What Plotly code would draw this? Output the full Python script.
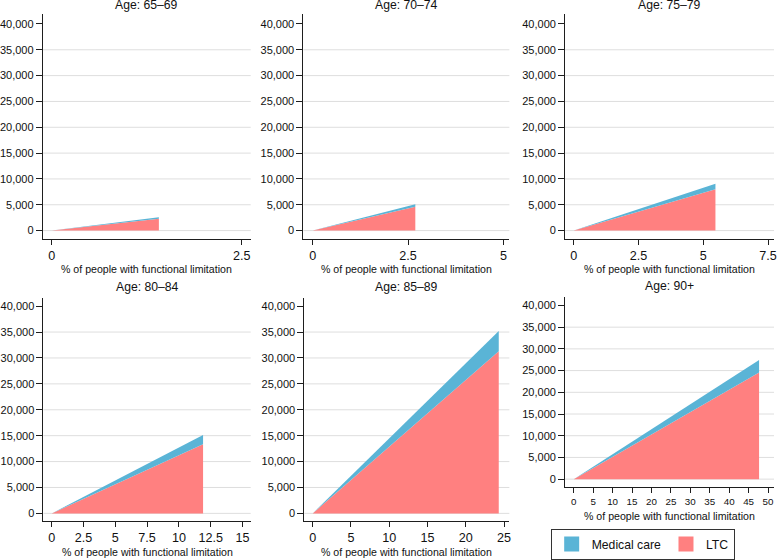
import plotly.graph_objects as go

# ---------------- data ----------------
age_groups = ["65–69", "70–74", "75–79", "80–84", "85–89", "90+"]
share_limited = [1.41, 2.69, 5.47, 11.9, 24.3, 47.7]      # % of people with functional limitation
ltc_cost = [2300, 4600, 8000, 13350, 31300, 24550]         # LTC
medical_cost = [270, 500, 1050, 1800, 3900, 2900]          # Medical care
x_tick_max = [2.5, 5, 7.5, 15, 25, 50]
x_tick_step = [2.5, 2.5, 2.5, 2.5, 5, 5]
y_ticks = [0, 5000, 10000, 15000, 20000, 25000, 30000, 35000, 40000]
y_grid = [0, 5000, 10000, 15000, 20000, 25000, 30000, 35000]

LTC_COLOR = "#ff8080"
MED_COLOR = "#5ab4d6"
AXIS_COLOR = "#1e1e1e"
GRID_COLOR = "#dedede"
FONT = "Liberation Sans, Arial, sans-serif"

W, H = 777, 560

# panel geometry in pixels: (axis-left, x0 px, xmax px, right, top, y40k px, y0 px, bottom)
geom = [
    (42.0, 51.0, 242.0, 251.0, 14.0, 24.0, 231.0, 239.0),
    (304.0, 313.3, 505.0, 511.0, 14.0, 24.0, 231.0, 239.0),
    (567.0, 575.7, 771.0, 777.0, 14.0, 24.0, 231.0, 239.0),
    (42.7, 51.0, 242.7, 251.0, 298.3, 306.7, 514.3, 522.3),
    (305.0, 313.3, 505.7, 511.0, 298.3, 306.7, 514.3, 522.3),
    (567.0, 575.7, 771.0, 777.0, 298.0, 306.0, 480.0, 488.3),
]

fig = go.Figure()
annotations = []
shapes = []

for i, name in enumerate(age_groups):
    n = i + 1
    xa = "x" if n == 1 else f"x{n}"
    ya = "y" if n == 1 else f"y{n}"
    L, X0, XM, R, T, Y40, Y0, B = geom[i]

    # LTC area
    fig.add_trace(go.Scatter(
        x=[0, share_limited[i]], y=[0, ltc_cost[i]],
        mode="lines", line=dict(width=0, color=LTC_COLOR),
        fill="tozeroy", fillcolor=LTC_COLOR,
        xaxis=xa, yaxis=ya, showlegend=False, hoverinfo="skip"))
    # Medical care stacked on top
    fig.add_trace(go.Scatter(
        x=[0, share_limited[i]], y=[0, ltc_cost[i] + medical_cost[i]],
        mode="lines", line=dict(width=0, color=MED_COLOR),
        fill="tonexty", fillcolor=MED_COLOR,
        xaxis=xa, yaxis=ya, showlegend=False, hoverinfo="skip"))

    # axis ranges derived from pixel geometry
    upx = x_tick_max[i] / (XM - X0)
    xr = [-(X0 - L) * upx, x_tick_max[i] + (R - XM) * upx]
    upy = 40000 / (Y0 - Y40)
    yr = [-(B - Y0) * upy, 40000 + (Y40 - T) * upy]

    ticks = []
    v = 0.0
    while v <= x_tick_max[i] + 1e-9:
        ticks.append(v)
        v += x_tick_step[i]
    tick_text = [("%g" % t) for t in ticks]

    xfs = 9.8 if n == 6 else 12.6
    fig.update_layout(**{
        ("xaxis" if n == 1 else f"xaxis{n}"): dict(
            domain=[L / W, min(R / W, 1.0)], range=xr, anchor=ya,
            showgrid=False, zeroline=False, showline=True,
            linecolor=AXIS_COLOR, linewidth=1,
            ticks="outside", ticklen=5, tickcolor=AXIS_COLOR, tickwidth=1,
            tickvals=ticks, ticktext=tick_text, ticklabeloverflow="allow",
            tickfont=dict(size=xfs, color="#111", family=FONT),
            fixedrange=True),
        ("yaxis" if n == 1 else f"yaxis{n}"): dict(
            domain=[1 - B / H, 1 - T / H], range=yr, anchor=xa,
            showgrid=False, zeroline=False, showline=True,
            linecolor=AXIS_COLOR, linewidth=1,
            ticks="outside", ticklen=6, tickcolor=AXIS_COLOR, tickwidth=1,
            tickvals=y_ticks, tickformat=",d", ticklabeloverflow="allow",
            tickfont=dict(size=11, color="#111", family=FONT),
            fixedrange=True),
    })

    xref_dom = f"{xa} domain"
    yref_dom = f"{ya} domain"
    for g in y_grid:
        shapes.append(dict(type="line", xref=xref_dom, yref=ya,
                           x0=0, x1=1, y0=g, y1=g, layer="below",
                           line=dict(color=GRID_COLOR, width=1)))

    annotations.append(dict(
        text=f"Age: {name}", xref=xref_dom, yref=yref_dom, x=0.5, y=1,
        xanchor="center", yanchor="bottom", yshift=0 if n <= 3 else 2,
        showarrow=False,
        font=dict(size=12.2, color="#111", family=FONT)))
    annotations.append(dict(
        text="% of people with functional limitation", xref=xref_dom, yref=yref_dom,
        x=0.5, y=0, xanchor="center", yanchor="middle",
        yshift=-29 if n == 6 else -30.5, showarrow=False,
        font=dict(size=10.6, color="#111", family=FONT)))

# legend entries
fig.add_trace(go.Scatter(x=[None], y=[None], mode="markers", name="Medical care",
                         marker=dict(symbol="square", size=15, color=MED_COLOR),
                         xaxis="x6", yaxis="y6", showlegend=True))
fig.add_trace(go.Scatter(x=[None], y=[None], mode="markers", name="LTC",
                         marker=dict(symbol="square", size=15, color=LTC_COLOR),
                         xaxis="x6", yaxis="y6", showlegend=True))

fig.update_layout(
    width=W, height=H, autosize=False,
    margin=dict(l=0, r=0, t=0, b=0),
    paper_bgcolor="white", plot_bgcolor="white",
    font=dict(family=FONT, color="#111"),
    annotations=annotations, shapes=shapes,
    legend=dict(orientation="h", x=645 / W, xanchor="center",
                y=1 - 545 / H, yanchor="middle",
                bordercolor="#333", borderwidth=1, bgcolor="white",
                font=dict(size=12.2, family=FONT, color="#111"),
                itemclick=False, itemdoubleclick=False,
                traceorder="normal", tracegroupgap=0),
    showlegend=True,
)

fig.write_html(
    "out.html",
    config={"displayModeBar": False, "staticPlot": True},
    post_script="document.body.style.margin='0';document.body.style.overflow='hidden';",
)
